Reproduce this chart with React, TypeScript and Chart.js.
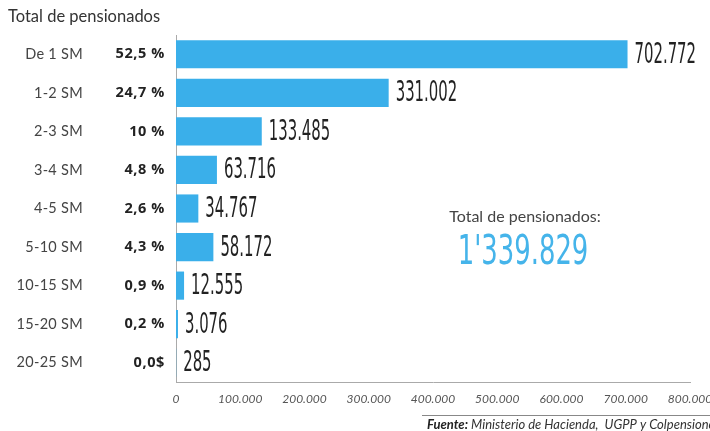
import React, { useEffect, useRef } from "react";
import { Chart, registerables } from "chart.js";

Chart.register(...registerables);

const categories = ["De 1 SM", "1-2 SM", "2-3 SM", "3-4 SM", "4-5 SM", "5-10 SM", "10-15 SM", "15-20 SM", "20-25 SM"];
const percentages = ["52,5 %", "24,7 %", "10 %", "4,8 %", "2,6 %", "4,3 %", "0,9 %", "0,2 %", "0,0$"];
const pensioners = [702772, 331002, 133485, 63716, 34767, 58172, 12555, 3076, 285];
const axisMax = 800000;
const axisStep = 100000;
const titleText = "Total de pensionados";
const totalLabel = "Total de pensionados:";
const totalValue = "1'339.829";
const sourceBold = "Fuente:";
const sourceText = " Ministerio de Hacienda,  UGPP y Colpensiones";

const BLUE = "#3aafea";
const NARROW = '"DejaVu Sans Condensed", sans-serif';
const SANS = 'Lato, "Noto Sans", sans-serif';

function fmt(n: number): string {
  return String(Math.round(n)).replace(/\B(?=(\d{3})+(?!\d))/g, ".");
}

const decorPlugin = {
  id: "decor",
  afterDraw(chart: any) {
    const ctx = chart.ctx as CanvasRenderingContext2D;
    const y = chart.scales.y;
    const meta = chart.getDatasetMeta(0);
    ctx.save();
    // left labels
    categories.forEach((c, i) => {
      const py = y.getPixelForValue(i);
      ctx.textBaseline = "middle";
      ctx.textAlign = "right";
      ctx.fillStyle = "#444";
      ctx.font = `14.5px ${SANS}`;
      (ctx as any).letterSpacing = "0.3px";
      ctx.fillText(c, 83, py);
      ctx.fillStyle = "#222";
      ctx.font = `bold 14.5px "Open Sans", ${SANS}`;
      (ctx as any).letterSpacing = "0.6px";
      ctx.fillText(percentages[i], 165, py);
      (ctx as any).letterSpacing = "0px";
    });
    // value labels
    meta.data.forEach((bar: any, i: number) => {
      const x = bar.x + 7;
      const py = bar.y;
      ctx.save();
      ctx.translate(x, py);
      ctx.scale(0.57, 1);
      ctx.font = `29px ${NARROW}`;
      ctx.fillStyle = "#222";
      ctx.textAlign = "left";
      ctx.textBaseline = "middle";
      ctx.fillText(fmt(pensioners[i]), 0, 1);
      ctx.restore();
    });
    // title
    ctx.textAlign = "left";
    ctx.textBaseline = "middle";
    ctx.fillStyle = "#333";
    ctx.font = `16.5px ${SANS}`;
    ctx.fillText(titleText, 8, 17);
    // total
    ctx.textAlign = "center";
    ctx.fillStyle = "#444";
    ctx.font = `16px ${SANS}`;
    ctx.fillText(totalLabel, 525, 217);
    ctx.save();
    ctx.translate(523, 254);
    ctx.scale(0.72, 1);
    ctx.fillStyle = "#45b4ea";
    ctx.font = `40px ${NARROW}`;
    ctx.textAlign = "center";
    ctx.textBaseline = "middle";
    ctx.fillText(totalValue, 0, 0);
    ctx.restore();
    // source
    ctx.strokeStyle = "#888";
    ctx.lineWidth = 1;
    ctx.beginPath();
    ctx.moveTo(422, 415.5);
    ctx.lineTo(710, 415.5);
    ctx.stroke();
    ctx.textAlign = "left";
    ctx.fillStyle = "#222";
    ctx.font = `italic bold 13px ${SANS}`;
    ctx.fillText(sourceBold, 427, 425);
    const w = ctx.measureText(sourceBold).width;
    ctx.font = `italic 13px ${SANS}`;
    ctx.fillStyle = "#333";
    ctx.fillText(sourceText, 427 + w, 425);
    ctx.restore();
  },
};

export default function App() {
  const ref = useRef<HTMLCanvasElement | null>(null);
  useEffect(() => {
    if (!ref.current) return;
    const chart = new Chart(ref.current, {
      type: "bar",
      data: {
        labels: categories,
        datasets: [
          {
            data: pensioners,
            backgroundColor: BLUE,
            barPercentage: 0.73,
            categoryPercentage: 1,
          },
        ],
      },
      options: {
        indexAxis: "y",
        animation: false,
        responsive: false,
        layout: { padding: { top: 35, right: 20, left: 0, bottom: 0 } },
        plugins: { legend: { display: false }, tooltip: { enabled: false } },
        scales: {
          x: {
            min: 0,
            max: axisMax,
            grid: { display: false, drawTicks: false },
            border: { display: true, color: "#aaa" },
            ticks: {
              stepSize: axisStep,
              padding: 10,
              color: "#555",
              font: { family: SANS, size: 12, style: "italic" },
              callback: (v: any) => fmt(Number(v)),
            },
            afterFit: (s: any) => {
              s.height = 49;
              s.paddingRight = 0;
              s.paddingLeft = 0;
            },
          },
          y: {
            grid: { display: false, drawTicks: false },
            border: { display: true, color: "#aaa" },
            ticks: { display: false },
            afterFit: (s: any) => {
              s.width = 176;
            },
          },
        },
      },
      plugins: [decorPlugin],
    });
    return () => chart.destroy();
  }, []);
  return (
    <div style={{ position: "fixed", left: 0, top: 0, width: 710, height: 431, background: "#fff" }}>
      <canvas ref={ref} width={710} height={431} style={{ display: "block" }} />
    </div>
  );
}
